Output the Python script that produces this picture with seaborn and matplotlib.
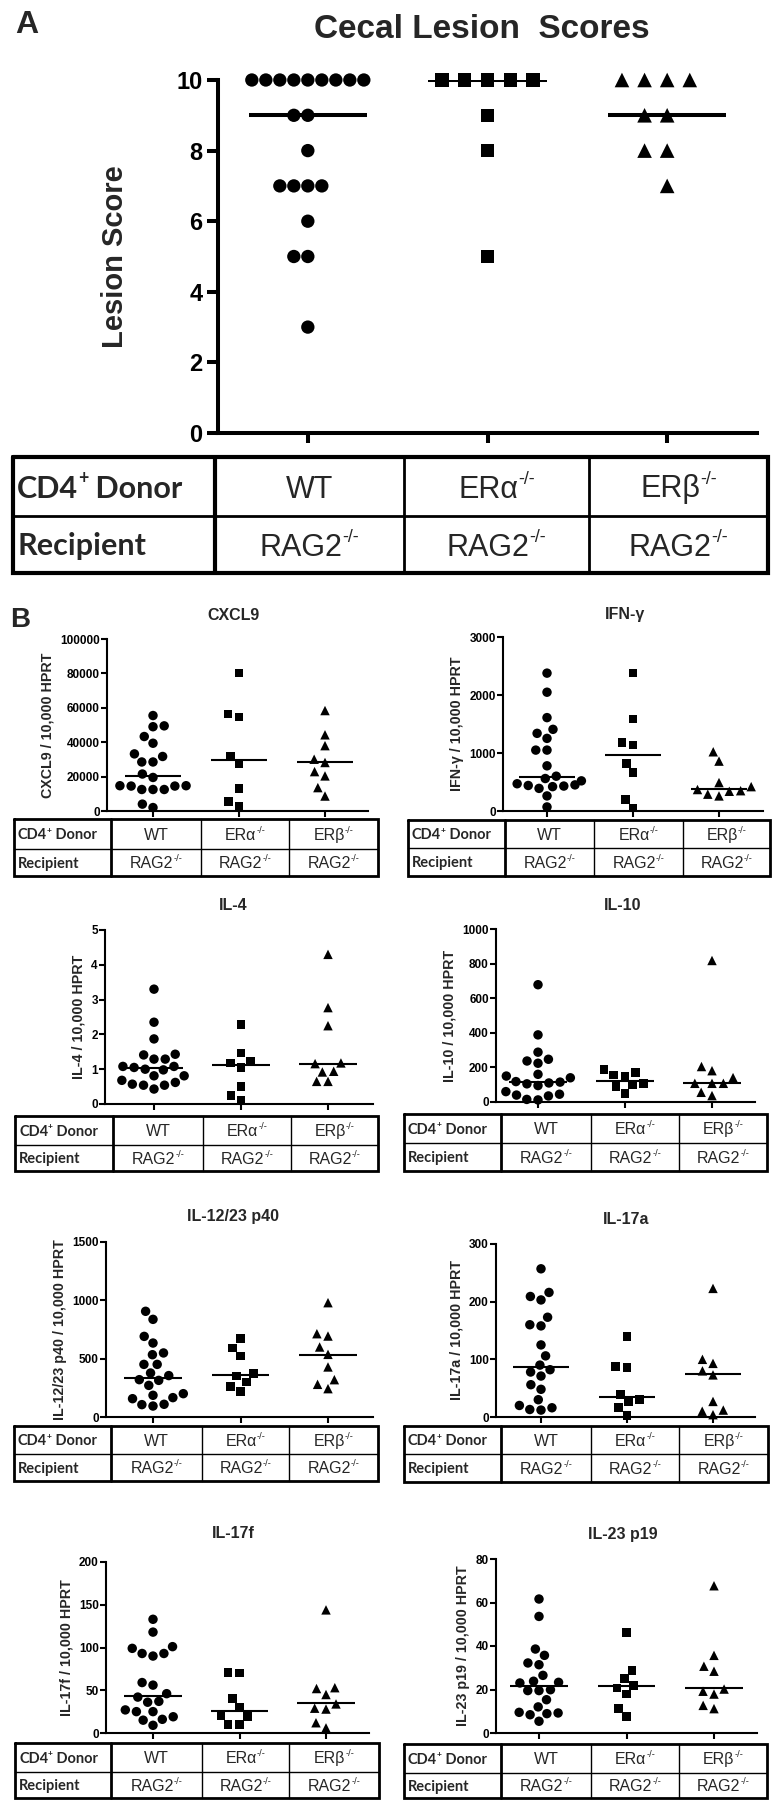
import warnings
warnings.filterwarnings("ignore")
import numpy as np
import pandas as pd
import matplotlib
matplotlib.use("Agg")
import matplotlib.pyplot as plt
from matplotlib.patches import Rectangle
import seaborn as sns

sns.set_theme(style="ticks")
plt.rcParams["font.family"] = ["Liberation Sans", "DejaVu Sans"]

# ---------------- data ----------------
groups = ["WT", "ERa", "ERb"]
donor_base = ["WT", "ERα", "ERβ"]
donor_sup = ["", "-/-", "-/-"]
recipient_base = ["RAG2", "RAG2", "RAG2"]
recipient_sup = ["-/-", "-/-", "-/-"]

# Panel A: cecal lesion scores
lesion_wt = [10, 10, 10, 10, 10, 10, 10, 10, 10, 9, 9, 8, 7, 7, 7, 7, 6, 5, 5, 3]
lesion_era = [10, 10, 10, 10, 10, 9, 8, 5]
lesion_erb = [10, 10, 10, 10, 9, 9, 8, 8, 7]
lesion_median = [9, 10, 9]

# Panel B: cytokines / 10,000 HPRT
cxcl9_wt = [55500, 49500, 49000, 43300, 39400, 33200, 31700, 28500, 28500, 21500,
            19500, 14700, 14700, 14500, 14500, 12500, 12500, 12500, 4000, 2000]
cxcl9_era = [80200, 56300, 54600, 31700, 27400, 13200, 5400, 2900]
cxcl9_erb = [58400, 44300, 38000, 30100, 28200, 22900, 20400, 13600, 8700]
cxcl9_median = [20400, 29500, 28500]

ifng_wt = [2377, 2048, 1610, 1408, 1339, 1252, 1050, 1050, 779, 600,
           560, 520, 470, 450, 440, 430, 420, 390, 260, 70]
ifng_era = [2377, 1587, 1177, 1137, 819, 664, 196, 52]
ifng_erb = [1021, 860, 490, 420, 370, 350, 340, 290, 260]
ifng_median = [589, 964, 375]

il4_wt = [3.30, 2.35, 1.87, 1.43, 1.41, 1.29, 1.29, 1.08, 1.08, 1.05,
          1.00, 0.98, 0.81, 0.81, 0.68, 0.62, 0.57, 0.54, 0.54, 0.43]
il4_era = [2.29, 1.46, 1.22, 1.18, 1.05, 0.51, 0.25, 0.11]
il4_erb = [4.30, 2.77, 2.25, 1.18, 1.16, 0.94, 0.92, 0.65, 0.65]
il4_median = [1.03, 1.11, 1.16]

il10_wt = [678, 388, 288, 247, 237, 224, 160, 150, 140, 118,
           115, 110, 105, 95, 60, 45, 40, 35, 15, 12]
il10_era = [189, 172, 156, 147, 108, 98, 89, 50]
il10_erb = [818, 205, 181, 141, 108, 108, 108, 56, 37]
il10_median = [114, 124, 112]

il12_wt = [906, 837, 691, 634, 549, 534, 451, 451, 377, 355,
           320, 314, 271, 200, 186, 166, 157, 109, 106, 94]
il12_era = [671, 591, 523, 371, 351, 300, 263, 220]
il12_erb = [980, 714, 694, 600, 537, 429, 320, 280, 243]
il12_median = [337, 363, 534]

il17a_wt = [257, 216, 209, 203, 173, 160, 158, 125, 106, 90,
            82, 78, 71, 56, 48, 30, 20, 16, 13, 12]
il17a_era = [140, 88, 86, 39, 30, 26, 16, 3]
il17a_erb = [223, 100, 93, 80, 73, 27, 12, 10, 4]
il17a_median = [86, 35, 74]

il17f_wt = [133, 118, 101, 99, 93, 93, 90, 59, 56, 46,
            42, 37, 36, 27, 25, 25, 19, 16, 15, 9]
il17f_era = [71, 70, 40, 30, 20, 19, 10, 10]
il17f_erb = [144, 53, 52, 45, 34, 29, 28, 12, 6]
il17f_median = [43.5, 26, 35]

il23_wt = [61.6, 53.6, 38.6, 35.7, 32.2, 31.4, 26.5, 23.8, 23.3, 23.0,
           19.9, 19.5, 19.5, 15.3, 12.0, 9.5, 9.2, 8.9, 8.4, 5.4]
il23_era = [46.3, 28.7, 25.0, 21.9, 20.7, 17.9, 11.2, 7.7]
il23_erb = [67.7, 35.7, 30.7, 28.4, 20.2, 19.2, 17.9, 12.7, 11.2]
il23_median = [21.5, 21.5, 20.7]

titles = ["CXCL9", "IFN-γ", "IL-4", "IL-10", "IL-12/23 p40", "IL-17a", "IL-17f", "IL-23 p19"]
y_max = [100000, 3000, 5, 1000, 1500, 300, 200, 80]
y_step = [20000, 1000, 1, 200, 500, 100, 50, 20]
series = [
    (cxcl9_wt, cxcl9_era, cxcl9_erb, cxcl9_median),
    (ifng_wt, ifng_era, ifng_erb, ifng_median),
    (il4_wt, il4_era, il4_erb, il4_median),
    (il10_wt, il10_era, il10_erb, il10_median),
    (il12_wt, il12_era, il12_erb, il12_median),
    (il17a_wt, il17a_era, il17a_erb, il17a_median),
    (il17f_wt, il17f_era, il17f_erb, il17f_median),
    (il23_wt, il23_era, il23_erb, il23_median),
]

# ---------------- layout (pixels) ----------------
W, H = 781, 1809
# L, R, tick0, tick2, top, zero, title_x, title_y, tx0, tx1, v1, v2, v3, ty0, ty1, ty2
layout_b = [
    (107, 368, 153, 325, 639, 811, 233, 615, 14, 378, 111, 201, 289, 819, 849, 876),
    (503, 763, 547, 719, 637, 811, 625, 615, 408, 770, 505, 594, 683, 820, 848, 876),
    (105, 373, 154, 328, 930, 1104, 233, 905, 15, 378, 113, 203, 291, 1116, 1145, 1171),
    (496, 755, 538, 712, 929, 1102, 623, 905, 404, 767, 501, 591, 679, 1114, 1143, 1171),
    (106, 373, 153, 328, 1242, 1417, 233, 1216, 14, 378, 111, 202, 289, 1426, 1454, 1481),
    (496, 755, 541, 713, 1244, 1417, 626, 1220, 404, 768, 501, 591, 679, 1426, 1454, 1482),
    (106, 369, 153, 326, 1562, 1733, 233, 1534, 15, 379, 111, 202, 289, 1743, 1772, 1798),
    (496, 757, 539, 714, 1559, 1733, 623, 1534, 404, 767, 501, 591, 679, 1744, 1773, 1798),
]

fig = plt.figure(figsize=(W / 100, H / 100), dpi=100)
fig.patch.set_facecolor("white")
renderer = fig.canvas.get_renderer()


def px_rect(L, R, top, zero):
    return [L / W, 1 - zero / H, (R - L) / W, (zero - top) / H]


def swarm_panel(ax, wt, era, erb, med, sizes, lws, med_lw, med_hw):
    vals = list(wt) + list(era) + list(erb)
    grp = ["WT"] * len(wt) + ["ERa"] * len(era) + ["ERb"] * len(erb)
    df = pd.DataFrame({"group": grp, "value": vals})
    for g, mk, sz, lw in zip(groups, ["o", "s", "^"], sizes, lws):
        sns.swarmplot(data=df[df["group"] == g], x="group", y="value", order=groups,
                      ax=ax, marker=mk, size=sz, color="black", edgecolor="none",
                      linewidth=lw, clip_on=False, zorder=3)
    pos = np.arange(len(groups))
    ax.hlines(med, pos - med_hw, pos + med_hw, color="black", lw=med_lw, zorder=2)


# overlay axis for tables / panel letters (1 unit = 1 pixel)
ov = fig.add_axes([0, 0, 1, 1], zorder=0)
ov.set_xlim(0, W)
ov.set_ylim(H, 0)
ov.axis("off")


def rich_text(x, y_base, parts, fs, family, weight, ha, cap_px):
    """parts: (text, is_superscript) pieces drawn as consecutive real text objects."""
    objs = []
    for txt, sup in parts:
        if not txt:
            continue
        size = fs * 0.58 if sup else fs
        yy = y_base - cap_px * 0.62 if sup else y_base
        t = ov.text(0, yy, txt, fontsize=size, family=family, weight=weight,
                    ha="left", va="baseline")
        objs.append(t)
    widths = [t.get_window_extent(renderer).width for t in objs]
    total = sum(widths)
    start = x - total / 2 if ha == "center" else x
    for t, w in zip(objs, widths):
        t.set_x(start)
        start += w


def draw_table(x0, x1, vs, ys, lw_out, lw_in, fs_head, fs_cell):
    ov.plot([x0, x1, x1, x0, x0], [ys[0], ys[0], ys[2], ys[2], ys[0]], color="black",
            lw=lw_out, solid_joinstyle="miter")
    ov.plot([x0, x1], [ys[1], ys[1]], color="black", lw=lw_in)
    ov.plot([vs[0], vs[0]], [ys[0], ys[2]], color="black", lw=lw_out)
    for v in vs[1:]:
        ov.plot([v, v], [ys[0], ys[2]], color="black", lw=lw_in)
    cap_h = fs_head * 100 / 72 * 0.72
    cap_c = fs_cell * 100 / 72 * 0.72
    r1 = (ys[0] + ys[1]) / 2
    r2 = (ys[1] + ys[2]) / 2
    head_fam = ["Lato", "DejaVu Sans"]
    rich_text(x0 + 4, r1 + cap_h / 2, [("CD4", False), ("+", True), (" Donor", False)],
              fs_head, head_fam, "bold", "left", cap_h)
    rich_text(x0 + 4, r2 + cap_h / 2, [("Recipient", False)], fs_head, head_fam, "bold",
              "left", cap_h)
    edges = list(vs) + [x1]
    cell_fam = ["Liberation Sans", "DejaVu Sans"]
    for i in range(3):
        cx = (edges[i] + edges[i + 1]) / 2
        rich_text(cx, r1 + cap_c / 2, [(donor_base[i], False), (donor_sup[i], True)],
                  fs_cell, cell_fam, "normal", "center", cap_c)
        rich_text(cx, r2 + cap_c / 2, [(recipient_base[i], False), (recipient_sup[i], True)],
                  fs_cell, cell_fam, "normal", "center", cap_c)


# ---------------- Panel A ----------------
axA = fig.add_axes(px_rect(218, 757, 80, 433), zorder=2)
axA.patch.set_alpha(0)
swarm_panel(axA, lesion_wt, lesion_era, lesion_erb, lesion_median,
            sizes=[9.6, 9.6, 10.5], lws=[0.0, 6.0, 5.0], med_lw=2.9, med_hw=0.33)
axA.set_xlim(-0.5, 2.5)
axA.set_ylim(0, 10)
axA.set_yticks([0, 2, 4, 6, 8, 10], labels=["0", "2", "4", "6", "8", "10"])
axA.set_xticks([0, 1, 2], labels=["", "", ""])
axA.set_xlabel("")
axA.set_ylabel("Lesion Score", fontsize=21, fontweight="bold", labelpad=34)
for s in ["top", "right"]:
    axA.spines[s].set_visible(False)
for s in ["left", "bottom"]:
    axA.spines[s].set_linewidth(2.9)
    axA.spines[s].set_color("black")
axA.tick_params(axis="y", direction="out", length=8, width=2.9, pad=3, labelsize=17,
                colors="black")
axA.tick_params(axis="x", direction="out", length=7, width=2.9, colors="black")
for lab in axA.get_yticklabels():
    lab.set_fontweight("bold")

ov.text(482, 30, "Cecal Lesion  Scores", fontsize=24, fontweight="bold", ha="center",
        va="center")
ov.text(15, 33, "A", fontsize=23, fontweight="bold", ha="left", va="baseline")
draw_table(13, 768, [215, 404, 589], [457, 516, 573], 3.0, 2.0, 22, 22)
ov.text(10, 627, "B", fontsize=20, fontweight="bold", ha="left", va="baseline")

# ---------------- Panel B ----------------
for k, (lay, ser) in enumerate(zip(layout_b, series)):
    L, R, t0, t2, top, zero, tx, ty, x0, x1, v1, v2, v3, y0, y1, y2 = lay
    ax = fig.add_axes(px_rect(L, R, top, zero), zorder=2)
    ax.patch.set_alpha(0)
    wt, era, erb, med = ser
    swarm_panel(ax, wt, era, erb, med, sizes=[6.8, 6.2, 6.8], lws=[0.9, 1.6, 1.0],
                med_lw=1.5, med_hw=0.33)
    u = (t2 - t0) / 2
    ax.set_xlim((L - t0) / u, (R - t0) / u)
    ax.set_ylim(0, y_max[k])
    ticks = np.arange(0, y_max[k] + y_step[k] / 2, y_step[k])
    ax.set_yticks(ticks, labels=[f"{t:g}" for t in ticks])
    ax.set_xticks([0, 1, 2], labels=["", "", ""])
    ax.set_xlabel("")
    ax.set_ylabel(f"{titles[k]} / 10,000 HPRT", fontsize=10.3, fontweight="bold",
                  labelpad=4)
    for s in ["top", "right"]:
        ax.spines[s].set_visible(False)
    for s in ["left", "bottom"]:
        ax.spines[s].set_linewidth(1.5)
        ax.spines[s].set_color("black")
    ax.tick_params(axis="y", direction="out", length=4, width=1.5, pad=1.2,
                   labelsize=8.5, colors="black")
    ax.tick_params(axis="x", direction="out", length=4, width=1.5, colors="black")
    for lab in ax.get_yticklabels():
        lab.set_fontweight("bold")
    ov.text(tx, ty, titles[k], fontsize=11.5, fontweight="bold", ha="center", va="center")
    draw_table(x0, x1, [v1, v2, v3], [y0, y1, y2], 2.0, 1.0, 10.5, 11.5)

# keep the extreme bottom-left corner clean
fig.add_artist(Rectangle((0, 0), 11 / W, 8 / H, transform=fig.transFigure,
                         facecolor="white", edgecolor="none", zorder=1000))

fig.savefig("out.png", dpi=100, facecolor="white")
